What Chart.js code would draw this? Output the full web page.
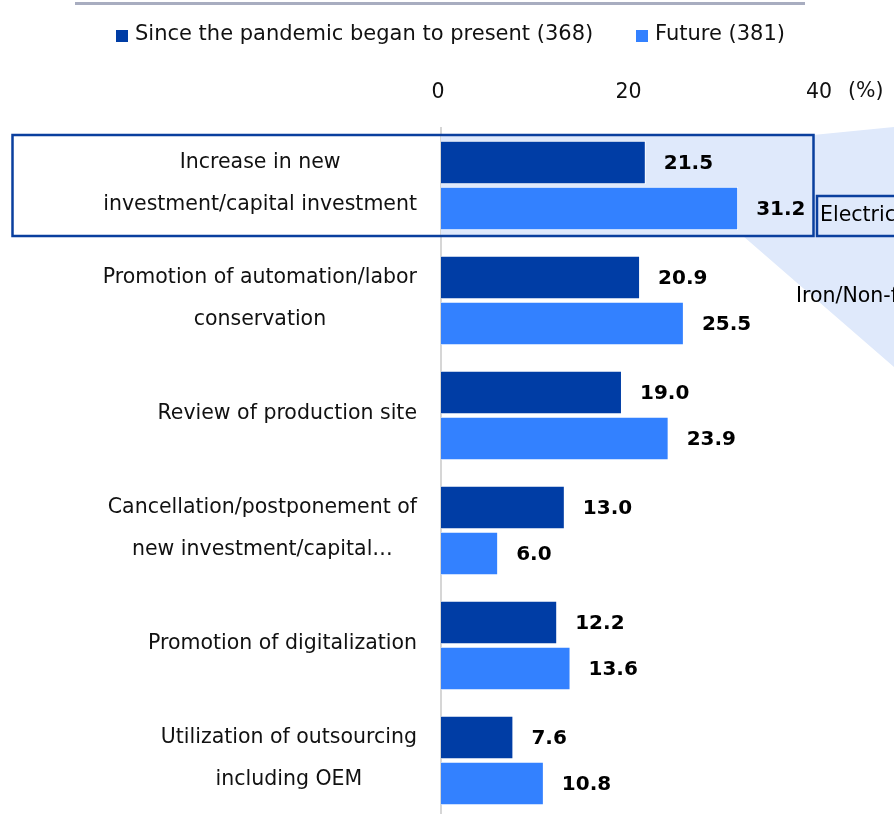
<!DOCTYPE html>
<html>
<head>
<meta charset="utf-8">
<script src="https://cdn.jsdelivr.net/npm/chart.js@4.4.1/dist/chart.umd.min.js"></script>
<style>
  html, body { margin: 0; padding: 0; background: #ffffff; overflow: hidden; }
  canvas { display: block; }
</style>
</head>
<body>
<canvas id="c" width="894" height="830"></canvas>
<script>
// ---- data ----
const categories = [
  ['Increase in new', 'investment/capital investment'],
  ['Promotion of automation/labor', 'conservation'],
  ['Review of production site'],
  ['Cancellation/postponement of', 'new investment/capital…'],
  ['Promotion of digitalization'],
  ['Utilization of outsourcing', 'including OEM']
];
const seriesNames = ['Since the pandemic began to present (368)', 'Future (381)'];
const sincePandemic = [21.5, 20.9, 19.0, 13.0, 12.2, 7.6];
const future = [31.2, 25.5, 23.9, 6.0, 13.6, 10.8];
const xTicks = [0, 20, 40];
const unitLabel = '(%)';
const calloutLabels = ['Electrical machinery', 'Iron/Non-ferrous metals'];

const seriesColors = ['#003da5', '#3381ff'];
const FONT = "'DejaVu Sans', Verdana, sans-serif";

const decor = {
  id: 'decor',
  beforeDatasetsDraw(chart) {
    const ctx = chart.ctx;
    ctx.save();
    ctx.fillStyle = '#dfe9fb';
    ctx.beginPath();
    ctx.moveTo(441, 135);
    ctx.lineTo(813, 135);
    ctx.lineTo(894, 127);
    ctx.lineTo(894, 367);
    ctx.lineTo(743, 236);
    ctx.lineTo(441, 236);
    ctx.closePath();
    ctx.fill();
    ctx.restore();
  },
  afterDatasetsDraw(chart) {
    const ctx = chart.ctx;
    const ys = chart.scales.y;
    ctx.save();
    // data labels
    ctx.font = 'bold 20px ' + FONT;
    ctx.fillStyle = '#000000';
    ctx.textBaseline = 'middle';
    ctx.textAlign = 'left';
    chart.data.datasets.forEach((ds, di) => {
      const meta = chart.getDatasetMeta(di);
      meta.data.forEach((bar, i) => {
        ctx.fillText(ds.data[i].toFixed(1), bar.x + 18, bar.y + 1);
      });
    });
    // category labels (centered lines, right-aligned block)
    ctx.font = '20.5px ' + FONT;
    ctx.fillStyle = '#111111';
    ctx.textAlign = 'center';
    const rightEdge = chart.chartArea.left - 24;
    categories.forEach((lines, i) => {
      const cy = ys.getPixelForValue(i) - 2;
      let maxW = 0;
      lines.forEach(l => { maxW = Math.max(maxW, ctx.measureText(l).width); });
      const cx = rightEdge - maxW / 2;
      const lh = 42;
      lines.forEach((l, k) => {
        ctx.fillText(l, cx, cy + (k - (lines.length - 1) / 2) * lh);
      });
    });
    // unit label
    ctx.textAlign = 'left';
    ctx.fillText(unitLabel, 848, 92);
    // highlight box
    ctx.strokeStyle = '#0a3f9e';
    ctx.lineWidth = 2.5;
    ctx.strokeRect(12.5, 135, 801, 101);
    ctx.strokeRect(817, 196, 100, 40);
    ctx.fillStyle = '#000000';
    ctx.fillText(calloutLabels[0], 820, 216);
    ctx.fillText(calloutLabels[1], 796, 297);
    // top rule
    ctx.strokeStyle = '#a8adc0';
    ctx.lineWidth = 3;
    ctx.beginPath();
    ctx.moveTo(75, 3.5);
    ctx.lineTo(805, 3.5);
    ctx.stroke();
    // legend
    ctx.font = '21px ' + FONT;
    ctx.textBaseline = 'middle';
    const legendX = [116, 636];
    seriesNames.forEach((name, i) => {
      ctx.fillStyle = seriesColors[i];
      ctx.fillRect(legendX[i], 30, 12, 12);
      ctx.fillStyle = '#111111';
      ctx.fillText(name, legendX[i] + 19, 35);
    });
    ctx.restore();
  }
};

new Chart(document.getElementById('c'), {
  type: 'bar',
  data: {
    labels: categories,
    datasets: [
      { label: seriesNames[0], data: sincePandemic, backgroundColor: seriesColors[0], borderColor: '#ffffff', borderWidth: 1 },
      { label: seriesNames[1], data: future, backgroundColor: seriesColors[1], borderColor: '#ffffff', borderWidth: 1 }
    ]
  },
  options: {
    indexAxis: 'y',
    responsive: false,
    animation: false,
    devicePixelRatio: 1,
    layout: { padding: { top: 78, right: 72, bottom: 12, left: 0 } },
    categoryPercentage: 0.8,
    barPercentage: 0.95,
    plugins: { legend: { display: false }, tooltip: { enabled: false } },
    scales: {
      x: {
        position: 'top',
        min: 0, max: 40,
        afterBuildTicks: s => { s.ticks = xTicks.map(v => ({ value: v })); },
        afterFit: s => { s.height = 50; },
        grid: { display: false, drawTicks: false },
        border: { display: false },
        ticks: { padding: 23, labelOffset: -3, color: '#111111', font: { family: FONT, size: 20.5 } }
      },
      y: {
        afterFit: s => { s.width = 441; },
        grid: { display: false, drawTicks: false },
        border: { display: true, color: '#d6d6d6', width: 2 },
        ticks: { display: false }
      }
    }
  },
  plugins: [decor]
});
</script>
</body>
</html>
